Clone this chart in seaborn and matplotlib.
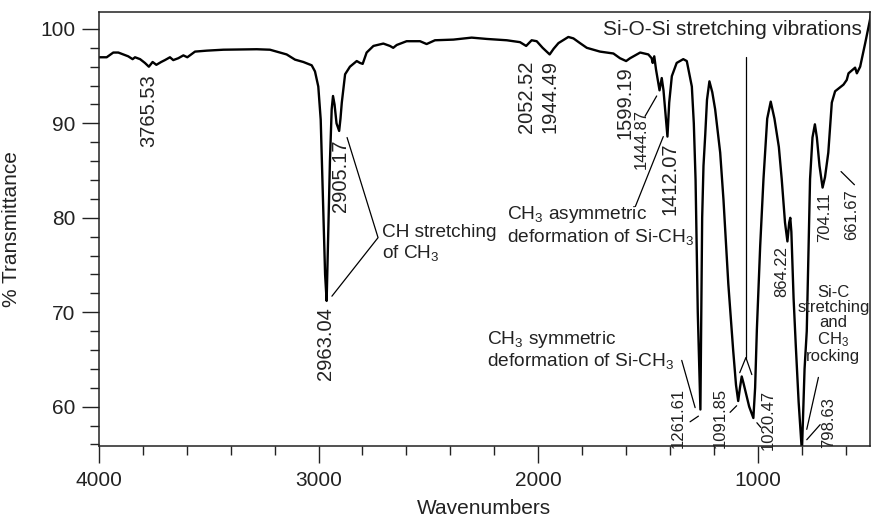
import matplotlib
matplotlib.use("Agg")
import matplotlib.pyplot as plt
from matplotlib.ticker import MultipleLocator, FixedLocator
import numpy as np
import pandas as pd
import seaborn as sns

# ---------------- data ----------------
wavenumber = [4000, 3964, 3934, 3911, 3888, 3866, 3846, 3835, 3812, 3790, 3772, 3755,
              3738, 3716, 3699, 3676, 3661, 3638, 3615, 3597, 3562, 3509, 3433, 3281,
              3221, 3183, 3145, 3107, 3069, 3031, 3016, 3001, 2990, 2980, 2970, 2963,
              2956, 2948, 2940, 2934, 2927, 2918, 2906, 2900, 2894, 2879, 2857, 2826,
              2811, 2799, 2781, 2750, 2705, 2675, 2660, 2644, 2599, 2538, 2508, 2470,
              2386, 2303, 2234, 2143, 2083, 2055, 2030, 2007, 1980, 1948, 1930, 1908,
              1863, 1840, 1810, 1779, 1719, 1658, 1628, 1600, 1582, 1536, 1499, 1484,
              1479, 1472, 1464, 1448, 1438, 1430, 1412, 1404, 1392, 1370, 1340, 1324,
              1301, 1292, 1284, 1274, 1262, 1258, 1254, 1248, 1240, 1232, 1221, 1208,
              1195, 1172, 1157, 1135, 1113, 1100, 1090, 1082, 1074, 1066, 1040, 1021,
              1013, 1005, 990, 975, 958, 942, 925, 905, 892, 877, 866, 858, 853, 848,
              838, 828, 815, 800, 788, 778, 763, 752, 741, 732, 720, 706, 695, 680,
              664, 649, 611, 596, 588, 568, 558, 550, 535, 512, 490, 480]
transmittance = [97.0, 97.0, 97.5, 97.5, 97.3, 97.1, 96.8, 97.0, 96.8, 96.4, 96.0, 96.5,
                 96.2, 96.5, 96.7, 97.0, 96.7, 96.9, 97.2, 97.0, 97.6, 97.7, 97.8, 97.85,
                 97.8, 97.55, 97.3, 96.75, 96.5, 96.15, 95.5, 93.9, 90.4, 82.0, 74.0, 71.2,
                 78.0, 86.0, 91.5, 92.9, 92.0, 90.0, 89.2, 90.5, 92.2, 95.2, 96.0, 96.6,
                 96.4, 96.3, 97.5, 98.2, 98.45, 98.2, 98.0, 98.3, 98.7, 98.7, 98.4, 98.8,
                 98.87, 99.08, 98.94, 98.8, 98.6, 98.2, 98.8, 98.7, 98.0, 97.3, 97.9, 98.5,
                 99.15, 99.0, 98.5, 98.0, 97.6, 97.4, 96.9, 96.6, 96.9, 97.5, 97.3, 96.9,
                 96.4, 97.1, 95.7, 93.5, 94.8, 93.5, 88.6, 92.2, 95.0, 96.4, 96.8, 96.6,
                 93.9, 90.0, 84.0, 70.0, 59.7, 70.0, 80.0, 85.5, 88.8, 92.5, 94.45, 93.3,
                 91.5, 86.9, 81.9, 73.0, 66.0, 62.3, 60.6, 62.0, 63.2, 62.5, 60.0, 58.8,
                 62.0, 68.2, 77.0, 84.1, 90.5, 92.3, 90.5, 87.5, 84.1, 79.5, 77.5, 79.5,
                 80.0, 78.5, 71.5, 66.5, 60.5, 55.2, 64.0, 68.0, 84.1, 88.5, 89.9, 88.5,
                 85.5, 83.2, 84.3, 86.9, 92.2, 93.4, 94.1, 94.6, 95.3, 95.7, 95.9, 95.3,
                 96.0, 98.5, 101.0, 102.5]

x_major_ticks = [4000, 3000, 2000, 1000]
y_major_ticks = [60, 70, 80, 90, 100]

# peak labels: text, x, top y
big_labels = ["3765.53", "2963.04", "2905.17", "2052.52", "1944.49", "1599.19", "1412.07"]
big_label_x = [3775, 2970, 2902, 2052, 1946, 1605, 1400]
big_label_y = [95.2, 70.5, 88.3, 96.6, 96.75, 96.0, 88.0]

small_labels = ["1444.87", "1261.61", "1091.85", "1020.47", "864.22", "798.63", "704.11", "661.67"]
small_label_x = [1529, 1362, 1172, 953, 892, 680, 695, 573]
small_label_y = [91.5, 62.0, 62.0, 61.8, 77.0, 61.0, 82.7, 83.0]

# ---------------- style ----------------
sns.set_theme(style="ticks")
plt.rcParams['font.family'] = ['Liberation Sans', 'DejaVu Sans']
plt.rcParams['mathtext.fontset'] = 'custom'
plt.rcParams['mathtext.rm'] = 'Liberation Sans'
plt.rcParams['mathtext.it'] = 'Liberation Sans'
plt.rcParams['mathtext.default'] = 'regular'

fig = plt.figure(figsize=(8.71, 5.19), dpi=100)
ax = fig.add_axes([0.1134, 0.140, 0.8855, 0.837])

df = pd.DataFrame({"Wavenumbers": wavenumber, "T": transmittance})
sns.lineplot(data=df, x="Wavenumbers", y="T", sort=False, estimator=None,
             color="black", lw=1.7, ax=ax)

ax.set_xlim(4000, 490)
ax.set_ylim(55.8, 101.8)
ax.xaxis.set_major_locator(FixedLocator(x_major_ticks))
ax.xaxis.set_minor_locator(MultipleLocator(200))
ax.yaxis.set_major_locator(FixedLocator(y_major_ticks))
ax.yaxis.set_minor_locator(MultipleLocator(2))
ax.tick_params(which="major", direction="out", length=12, width=1.0, labelsize=15,
               color="#222222", labelcolor="#222222")
ax.tick_params(which="minor", direction="out", length=6.5, width=1.0, color="#222222")
ax.tick_params(axis="x", which="major", pad=6)
ax.tick_params(axis="y", which="major", pad=5)
for s in ax.spines.values():
    s.set_visible(True)
    s.set_linewidth(1.1)
    s.set_color("#222222")

ax.set_xlabel("Wavenumbers", fontsize=15, color="#222222", labelpad=6)
ax.set_ylabel("% Transmittance", fontsize=15, color="#222222", labelpad=14)

tc = "#222222"
for t, x, y in zip(big_labels, big_label_x, big_label_y):
    ax.text(x, y, t, rotation=90, ha="center", va="top", fontsize=14.5, color=tc)
for t, x, y in zip(small_labels, small_label_x, small_label_y):
    ax.text(x, y, t, rotation=90, ha="center", va="top", fontsize=12, color=tc)

# descriptive texts (one text per line)
def lines(x, ys, texts, size, ha="left"):
    for y, t in zip(ys, texts):
        ax.text(x, y, t, ha=ha, va="center", fontsize=size, color=tc)

lines(2712, [78.45, 76.3], ["CH stretching", "of CH$_3$"], 13.7)
lines(2144, [80.4, 78.0], ["CH$_3$ asymmetric", "deformation of Si-CH$_3$"], 13.8)
lines(2234, [67.1, 64.8], ["CH$_3$ symmetric", "deformation of Si-CH$_3$"], 13.8)
ax.text(657, 68.7, "Si-C\nstretching\nand\nCH$_3$\nrocking", ha="center", va="center",
        multialignment="center", fontsize=12, color=tc, linespacing=1.0)
ax.text(525, 99.9, "Si-O-Si stretching vibrations", ha="right", va="center",
        fontsize=15, color=tc)

# leader lines
lk = dict(color="black", lw=0.9)
ax.plot([2870, 2729, 2939], [88.5, 77.9, 71.7], **lk)
ax.plot([1514, 1461], [90.75, 92.9], **lk)
ax.plot([1558, 1431], [81.2, 88.6], **lk)
ax.plot([1347, 1286], [64.9, 59.9], **lk)
ax.plot([1309, 1271], [58.4, 59.0], **lk)
ax.plot([1127, 1097], [59.4, 60.1], **lk)
ax.plot([1005, 987], [58.3, 57.8], **lk)
ax.plot([1055, 1055], [97.0, 65.2], **lk)
ax.plot([1083, 1055, 1028], [63.6, 65.2, 63.4], **lk)
ax.plot([778, 717], [56.5, 58.1], **lk)
ax.plot([725, 778], [63.1, 57.6], **lk)
ax.plot([622, 561], [84.9, 83.5], **lk)

fig.savefig("out.png", dpi=100)
